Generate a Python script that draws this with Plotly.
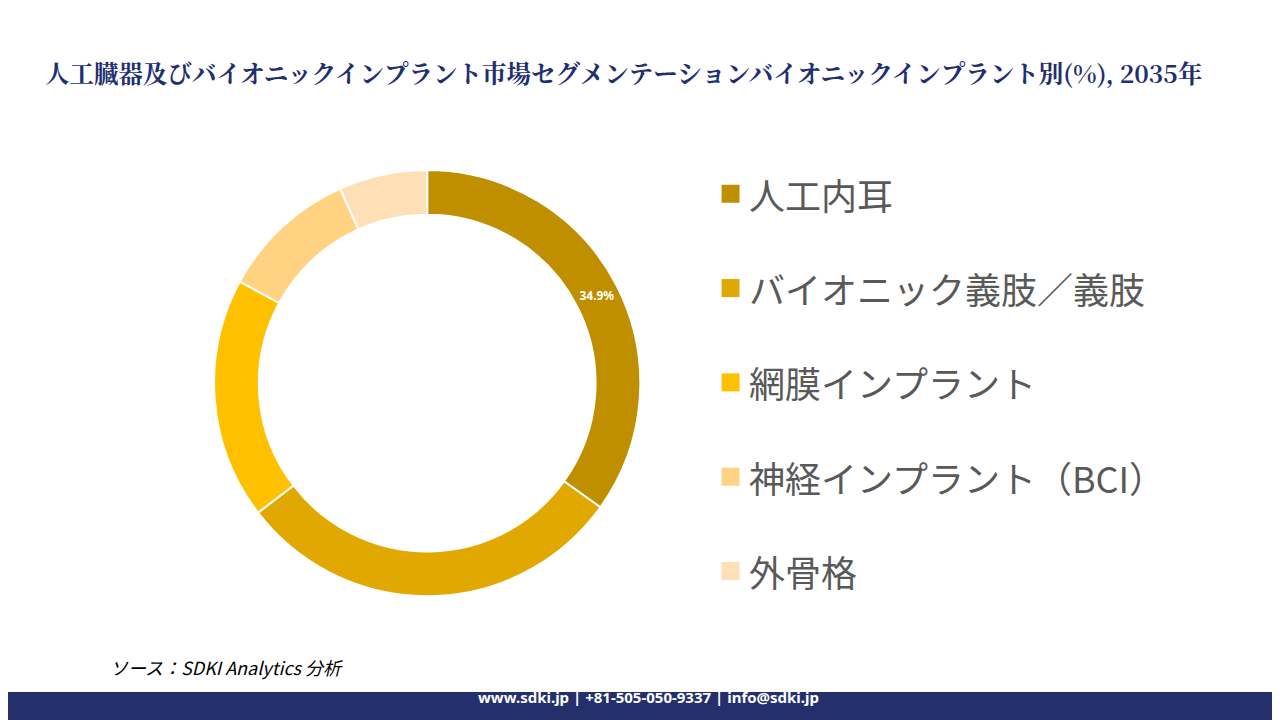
import plotly.graph_objects as go

ラベル = ["人工内耳", "バイオニック義肢／義肢", "網膜インプラント", "神経インプラント（BCI）", "外骨格"]
割合 = [34.9, 29.7, 18.3, 10.4, 6.7]
色 = ["#BF8F00", "#E0A800", "#FFC000", "#FFD382", "#FFE0B6"]
表示 = ["<b>34.9%</b>", "", "", "", ""]

fig = go.Figure()

fig.add_trace(go.Pie(
    labels=ラベル,
    values=割合,
    hole=0.79,
    sort=False,
    direction="clockwise",
    rotation=0,
    marker=dict(colors=色, line=dict(color="white", width=2)),
    text=表示,
    textinfo="text",
    textposition="inside",
    insidetextorientation="horizontal",
    textfont=dict(color="white", size=12, family="Noto Sans"),
    showlegend=False,
    domain=dict(x=[0.161, 0.494], y=[0.183, 0.775]),
))

# 凡例は手描き（間隔を合わせるため）
for i, (名前, c) in enumerate(zip(ラベル, 色)):
    y = 0.742 - i * 0.131
    fig.add_shape(type="rect", xref="paper", yref="paper",
                  x0=0.5575, x1=0.5715, y0=y - 0.0125, y1=y + 0.0125,
                  fillcolor=c, line=dict(width=0))
    fig.add_annotation(x=0.577, y=y, xref="paper", yref="paper", text=名前,
                       showarrow=False, xanchor="left", yanchor="middle",
                       font=dict(size=36, color="#595959", family="Noto Sans CJK JP"))

fig.add_annotation(x=0.027, y=0.91, xref="paper", yref="paper",
                   text="<b>人工臓器及びバイオニックインプラント市場セグメンテーションバイオニックインプラント別(%), 2035年</b>",
                   showarrow=False, xanchor="left", yanchor="middle",
                   font=dict(size=24.5, color="#1F3070", family="Noto Serif CJK JP, Noto Sans CJK JP"))

fig.add_annotation(x=0.078, y=0.085, xref="paper", yref="paper",
                   text="<i>ソース：SDKI Analytics 分析</i>",
                   showarrow=False, xanchor="left", yanchor="middle",
                   font=dict(size=18, color="black", family="Noto Sans CJK JP"))

fig.add_shape(type="rect", xref="paper", yref="paper", x0=0, x1=1, y0=0, y1=0.05,
              fillcolor="#24306B", line=dict(width=0))
fig.add_annotation(x=0.5, y=0.027, xref="paper", yref="paper",
                   text="<b>www.sdki.jp | +81-505-050-9337 | info@sdki.jp</b>",
                   showarrow=False, font=dict(size=15, color="white", family="Noto Sans"))

fig.update_layout(
    width=1280, height=720,
    margin=dict(l=0, r=0, t=0, b=0),
    paper_bgcolor="white",
    plot_bgcolor="white",
)

fig.write_html("out.html")
